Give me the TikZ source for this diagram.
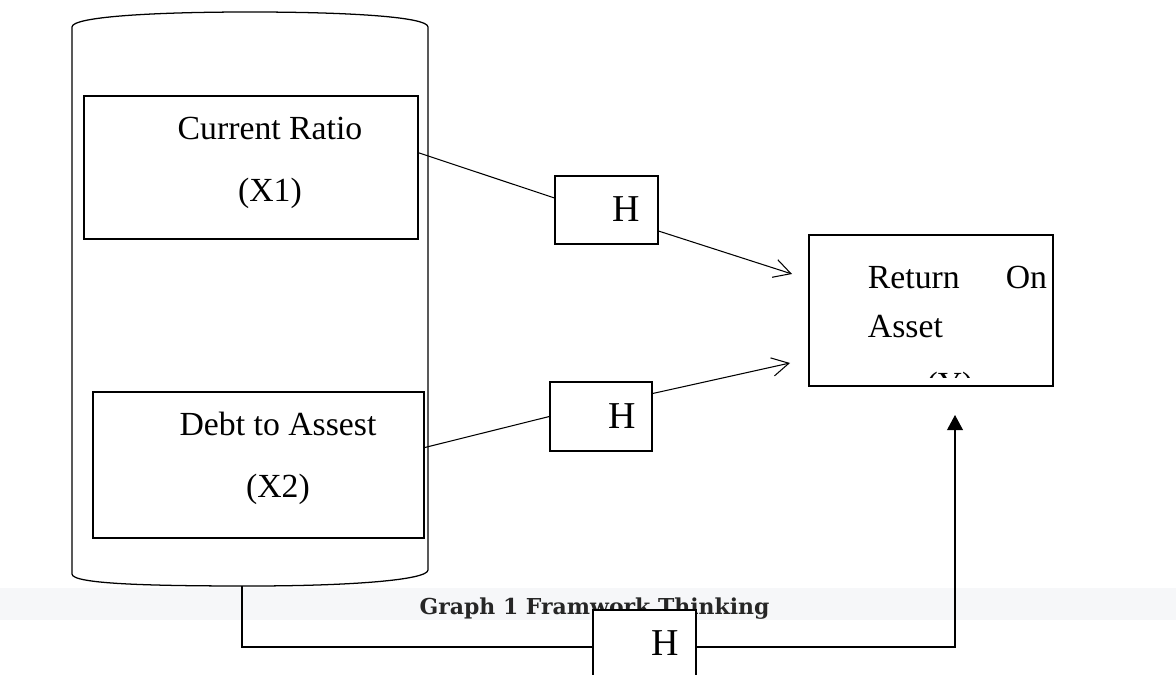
\documentclass[tikz,border=0pt]{standalone}
\usepackage{fontspec}
\setmainfont{Liberation Serif}
\newfontfamily\capfont{DejaVu Serif}
\usepackage{xcolor}
\usepackage{tikz}
\usetikzlibrary{positioning,arrows.meta}
\definecolor{capband}{RGB}{246,247,249}
\definecolor{captext}{RGB}{38,38,38}
\tikzset{
  % --- boxes -----------------------------------------------------------------
  varbox/.style={rectangle,draw,line width=0.9pt,inner sep=0pt},
  hbox/.style={varbox,fill=white,minimum width=2.57cm},
  lbl/.style={align=center,inner sep=0pt,font=\fontsize{24}{44}\selectfont},
  hlbl/.style={inner sep=0pt,anchor=base,font=\fontsize{27}{32}\selectfont},
  % --- connectors ------------------------------------------------------------
  lnk/.style={line width=0.75pt},
  barb/.style={lnk,-{Straight Barb[length=4.2mm,width=4.6mm]}},
  tri/.style={lnk,-{Triangle[length=3.8mm,width=4mm]}},
}

\begin{document}
\begin{tikzpicture}[x=0.025cm,y=-0.025cm]
  \useasboundingbox (0,0) rectangle (1176,675);
  \clip (0,0) rectangle (1176,675);
  % caption band
  \fill[capband] (0,588) rectangle (1176,620);
  \node[anchor=base,inner sep=0pt,text=captext,
        font=\capfont\bfseries\fontsize{15.6}{18}\selectfont] (cap) at (594.5,614) {Graph 1 Framwork Thinking};
  % the drum holding both ratios
  \draw[line width=0.9pt] (72,574) -- (72,27) .. controls (72,17) and (150,12) .. (250,12)
    .. controls (350,12) and (428,17) .. (428,27) -- (428,570)
    .. controls (428,580) and (350,586) .. (250,586) .. controls (150,586) and (72,584) .. (72,574);
  \coordinate (cylbot) at (242,586);
  % variables
  \node[varbox,minimum width=8.35cm,minimum height=3.575cm] (x1) at (251,167.5) {};
  \node[lbl] (x1t) at (270,163) {Current Ratio\\(X1)};
  \node[varbox,minimum width=8.275cm,minimum height=3.65cm] (x2) at (258.5,465) {};
  \node[lbl] (x2t) at (278,458) {Debt to Assest\\(X2)};
  \node[varbox,minimum width=6.1cm,minimum height=3.775cm] (roa) at (931,310.5) {};
  \node[lbl,align=left,text width=4.475cm,font=\fontsize{24}{35.5}\selectfont] (roat) at (957.5,302) {Return\hfill On\\Asset};
  \begin{scope}
    \clip (roa.north west) rectangle (1053,377);
    \node[lbl,anchor=base] (yt) at (950,395) {(Y)};
  \end{scope}
  % hypotheses
  \node[hbox,minimum height=1.7cm] (h1) at (606.5,210) {};
  \node[hlbl] (h1t) at (626,222) {H};
  \node[hbox,minimum width=2.55cm,minimum height=1.725cm] (h2) at (601,416.5) {};
  \node[hlbl] (h2t) at (622,428) {H};
  \node[hbox,minimum height=1.85cm] (h3) at (644.5,647) {};
  \node[hlbl] (h3t) at (665,655) {H};
  % arrow ends
  \coordinate (a1) at (792,274);
  \coordinate (a2) at (790,363);
  \coordinate (a3) at (955,415);
  \draw[lnk] (x1.5) -- (h1.167);
  \draw[barb] (h1.-22) -- (a1);
  \draw[lnk] (x2.6) -- (h2.west);
  \draw[barb] (h2.24) -- (a2);
  \draw[lnk] (cylbot) |- (h3.west);
  \draw[tri] (h3.east) -| (a3);
\end{tikzpicture}
\end{document}
